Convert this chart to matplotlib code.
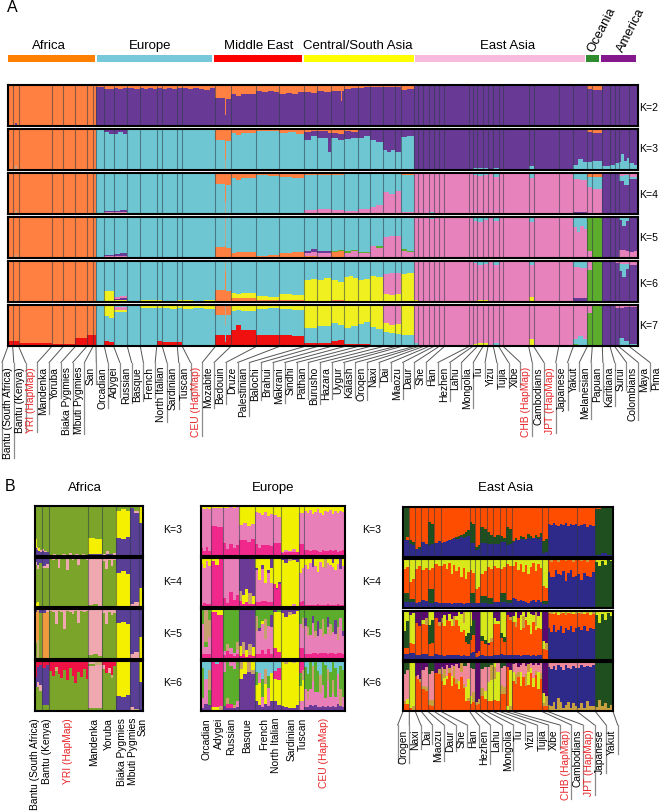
import matplotlib
matplotlib.use("Agg")
import matplotlib.pyplot as plt
import numpy as np

W, H = 661, 812
plt.rcParams['font.family'] = ['Liberation Sans', 'DejaVu Sans']

# --- HEADER BAR ---
REGIONS = ['Africa', 'Europe', 'Middle East', 'Central/South Asia', 'East Asia', 'Oceania', 'America']
REGION_SIZES = [89, 117.3, 89.7, 111.6, 171, 14.7, 36.3]
REGION_COLORS = ['#FF8000', '#78C8DC', '#FF0000', '#FFFF00', '#F9BBDD', '#2E8B2E', '#84188C']

# --- PANEL A ---
A_POPS = ['Bantu (South Africa)', 'Bantu (Kenya)', 'YRI (HapMap)', 'Mandenka', 'Yoruba', 'Biaka Pygmies',
          'Mbuti Pygmies', 'San', 'Orcadian', 'Adygei', 'Russian', 'Basque', 'French', 'North Italian',
          'Sardinian', 'Tuscan', 'CEU (HapMap)', 'Mozabite', 'Bedouin', 'Druze', 'Palestinian', 'Balochi',
          'Brahui', 'Makrani', 'Sindhi', 'Pathan', 'Burusho', 'Hazara', 'Uygur', 'Kalash', 'Oroqen', 'Naxi',
          'Dai', 'Miaozu', 'Daur', 'She', 'Han', 'Hezhen', 'Lahu', 'Mongolia', 'Tu', 'Yizu', 'Tujia', 'Xibe',
          'CHB (HapMap)', 'Cambodians', 'JPT (HapMap)', 'Japanese', 'Yakut', 'Melanesian', 'Papuan',
          'Karitiana', 'Surui', 'Colombians', 'Maya', 'Pima']
A_SIZES = [4.7, 6, 33, 11.6, 12, 11.4, 6.3, 3, 8.3, 9.4, 13.6, 13, 16.4, 5.6, 15, 5, 33, 15.4, 25.6, 23, 25,
           13, 13.7, 13.3, 13.4, 12, 13.6, 12, 6, 12.4, 4.6, 5, 5.4, 5, 5.3, 5.3, 24.7, 3.7, 4.6, 5.7, 5, 5.3,
           5.4, 4.6, 25.4, 5, 25, 14.6, 14, 5, 10, 7.7, 4.7, 4, 10.6, 8.7]
A_COLORS = {'o': '#FF8040', 'p': '#683A96', 'c': '#6EC6D2', 'k': '#E882BC', 'g': '#5CAD2C',
            'y': '#F0F020', 'r': '#F01010', 't': '#B8A890'}

# each population: columns split by | and segments listed top to bottom, value in percent
A_K2 = ['o98 p2', 'o97 p3|o93 p7|o98 p2', 'o100', 'o99 p1', 'o99 p1', 'o100', 'o100', 'o100',
        'o6 p94', 'o9 p91', 'o8 p92|o10 p90|o7 p93', 'o8 p92|o10 p90', 'o8 p92|o10 p90|o7 p93|o9 p91', 'o8 p92', 'o9 p91|o7 p93|o9 p91', 'o8 p92',
        'o8 p92|o10 p90|o7 p93|o9 p91|o11 p89|o8 p92',
        'o32 p68*12|o72 p28|o33 p67*6', 'o22 p78*6|o28 p72*6|t60 p40|o22 p78*18', 'o15 p85|o17 p83|o14 p86|o16 p84', 'o22 p78|o20 p80|o23 p77|o18 p82',
        'o17 p83|o20 p80', 'o14 p86|o18 p82', 'o15 p85*8|o40 p60|o14 p86*2', 'o10 p90|o7 p93', 'o8 p92|o6 p94', 'o6 p94', 'o6 p94', 'o5 p95', 'o12 p88|o9 p91',
        'p100', 'p100', 'p100', 'p100', 'p100', 'p100', 'p100', 'p100', 'p100', 'p100', 'p100', 'p100', 'p100', 'p100',
        'p100', 'o2 p98', 'p100', 'p100', 'p100', 'o10 p90', 'o12 p88', 'p100', 'p100', 'p100', 'o3 p97', 'o1 p99']
A_K3 = ['o98 c2', 'o97 t3|o91 t9|o98 c2', 'o100', 'o98 c2', 'o99 c1', 'o100', 'o100', 'o100',
        'c100', 'p8 c92|p12 c88', 'p12 c88|p8 c92|p13 c87', 'p1 c99', 'c100', 'c100', 'c100', 'c100', 'p1 c99',
        'o28 c72*12|o72 t28|o30 c70*6', 'o10 c90*6|o14 c86*6|t60 c40|o10 c90*18', 'o6 c94|o4 c96', 'o10 c90|o8 c92|o12 c88',
        'o8 p18 c74|o6 p12 c82', 'o5 p18 c77*8|o10 p45 c45*2', 'o10 p12 c78|o12 p16 c72', 'o6 p18 c76|o8 p14 c78', 'o3 p18 c79|o2 p14 c84', 'p28 c72|p32 c68',
        'p52 c48|p55 c45|p50 c50', 'p55 c45', 'p20 c80|p18 c82',
        'p98 c2', 'p97 c3', 'p100', 'p98 c2', 'p100', 'p100', 'p100', 'p98 c2', 'p96 c4', 'p94 c6', 'p96 c4', 'p100',
        'p94 c6', 'p100', 'p98 c2', 'p90 c10', 'p99 c1', 'p100', 'p88 c12|p72 c28|p80 c20', 'o8 p72 c20', 'o10 p68 c22',
        'p90 c10', 'p88 c12', 'p84 c16', 'p80 c20|p62 c38|p78 c22|p70 c30', 'p84 c16|p88 c12']
A_K4 = ['o98 c2', 'o97 t3|o93 t7|o98 c2', 'o100', 'o99 c1', 'o99 c1', 'o100', 'o100', 'o100',
        'c100', 'c92 p4 k4', 'c92 p4 k4|c90 p5 k5', 'c100', 'c98 k2', 'c100', 'c100', 'c100', 'c99 p1',
        'o28 c72*12|o70 t30|o30 c70*6', 'o12 c88*6|o16 c84*6|t55 c45|o12 c88*18', 'o6 c94|o8 c92', 'o10 c90|o13 c87',
        'o5 c85 k10', 'o4 c84 k12', 'o6 c84 k10', 'o2 c90 k8', 'c88 k12', 'c82 k18|c78 k22', 'c46 k54|c50 k50', 'c44 k56', 'o5 c90 k5',
        'k100', 'k98 c2', 'k100', 'k96 c4', 'k100', 'k100', 'k100', 'k98 p2', 'c5 k95', 'c8 k92', 'c4 k96', 'k100',
        'c10 k90', 'k100', 'k100', 'c12 k88', 'k100', 'k100', 'c14 k81 p5|c18 k76 p6', 'o10 c25 k65', 'o10 c30 k60',
        'p100', 'p100', 'p97 k3', 'k8 c12 p80|k6 c24 p70', 'k10 c5 p85']
A_K5 = ['o98 c2', 'o97 t3|o93 t7|o98 c2', 'o100', 'o99 c1', 'o99 c1', 'o100', 'o100', 'o100',
        'c100', 'c92 p4 k4', 'c90 p4 k6|c88 p6 k6', 'c100', 'c100', 'c100', 'c100', 'c100', 'c100',
        'c74 o26*12|t70 o30|c76 o24*6', 'c88 o12*6|c85 o15*6|t60 o40|c86 o14*18', 'c94 o6|c92 o8', 'c87 o13|c85 o15',
        'c82 p6 k8 o4|c78 p8 k8 o6', 'c84 p5 k8 o3', 'c82 g3 o15|c80 g4 o16', 'c84 g4 k12|c80 g4 k16', 'c86 g3 k11', 'c70 g2 k28|c72 g3 k25', 'c50 k50|c46 k54', 'c48 k52', 'c78 g4 k18|c82 g3 k15',
        'k100', 'c3 k97', 'k100', 'c6 k94', 'k100', 'k100', 'k100', 'c4 k96', 'c10 k90', 'c14 k86', 'c8 k92', 'k100',
        'c10 k90', 'k100', 'k100', 'c14 k86', 'k100', 'k100', 'c26 k74|c38 k62|c24 k76|c30 k70', 'g82 k18', 'g100',
        'p100', 'p100', 'p100', 'c8 p72 k20|c22 p58 k20|c12 p70 k18', 'p86 k14|p84 k16']
A_K6 = ['o98 c2', 'o97 t3|o94 t6|o99 c1', 'o100', 'o100', 'o100', 'o100', 'o100', 'o100',
        'c100', 'c74 y26', 'c87 k5 p4 y4|c85 k6 p5 y4', 'c99 y1', 'c96 y4', 'c96 y4', 'c97 y3', 'c94 y6', 'c95 y5|c97 y3|c94 y6',
        'c70 o30*12|t25 o75|c72 o28*6', 'c78 y12 o10*6|c80 y10 o10*6|t45 o55|c78 y12 o10*18', 'c86 y10 o4|c88 y8 o4', 'c80 y15 o5|c83 y13 o4',
        'c46 y54|c44 y56', 'c46 y54|c42 y58', 'c46 y50 o4|c50 y46 o4', 'c40 y60|c36 y64|c42 y58', 'c47 y53|c44 y56', 'c36 y64|c40 y60', 'c32 k48 y20|c30 k52 y18', 'c30 k50 y20', 'c32 y68|c30 y70',
        'k96 y4', 'k98 y2', 'k100', 'k98 y2', 'k100', 'k100', 'k98 y2', 'k98 y2', 'c6 k92 y2', 'c10 k86 y4', 'c8 k88 y4', 'k98 y2',
        'c10 k90', 'k100', 'k99 y1', 'c10 k78 y12', 'k100', 'k100', 'c14 k76 p8 y2|c18 k72 p8 y2', 'k22 g78', 'g100',
        'p100', 'p100', 'k5 p95', 'k8 c16 p76|k8 c32 p60|k8 c12 p80', 'k10 p90']
A_K7 = ['o88 r12', 'o89 r11', 'o92 r8|o93 r7', 'o94 r6', 'o95 r5', 'o80 r20', 'o73 r27', 'o72 r28',
        'c100', 'c3 y25 c60 r12|c3 y28 c59 r10', 'c6 k5 y5 c84', 'c100', 'c3 y4 c91 r2', 'c3 y5 c80 r12', 'c3 y4 c83 r10|c3 y6 c82 r9', 'c3 y5 c82 r10', 'c3 y6 c91|c3 y4 c93|c3 y7 c90',
        'o24 c48 r28*12|t50 c40 r10|o24 c50 r26*6', 'c2 y12 c46 r40*6|c2 y10 c36 r52*6|t40 c30 r30|c2 y12 c48 r38*18', 'c2 y8 c62 r28|c2 y6 c66 r26', 'c2 y8 c62 r28|c2 y9 c64 r25',
        'y56 c36 r8', 'y52 c40 r8', 'y45 c42 r13|y48 c38 r14', 'y55 c41 r4|y52 c44 r4', 'y46 c50 r4|y42 c54 r4', 'y54 c44 r2|y58 c40 r2', 'k45 y22 c33|k48 y20 c32', 'k46 y24 c30', 'y72 c28|y74 c26',
        'k92 c8', 'k98 y2', 'k100', 'k97 y3', 'k100', 'k100', 'k99 y1', 'k98 y2', 'k96 y2 c2', 'k92 y6 c2', 'k92 y8', 'k98 y2',
        'k92 c8', 'k100', 'k99 y1', 'k82 y18', 'k100', 'k100', 'k82 c12 g6|k76 c24|k84 c16', 'k20 g80', 'g100',
        'p100', 'p98 c2', 'k8 p92', 'k8 p72 c20|k6 p82 c12', 'k6 p90 c4']
A_ROWS = [A_K2, A_K3, A_K4, A_K5, A_K6, A_K7]
A_KS = ['K=2', 'K=3', 'K=4', 'K=5', 'K=6', 'K=7']

# --- PANEL B AFRICA ---
AF_POPS = ['Bantu (South Africa)', 'Bantu (Kenya)', 'YRI (HapMap)', 'Mandenka', 'Yoruba', 'Biaka Pygmies', 'Mbuti Pygmies', 'San']
AF_SIZES = [6.7, 7.6, 39, 14, 14, 14, 8.4, 4.3]
AF_COLORS = {'g': '#7AA52A', 'y': '#F5F000', 'v': '#5A3F96', 'n': '#F0A8B0', 'a': '#F09A40', 'r': '#EE1144', 't': '#C8B070'}
AF_K3 = ['g66 y18 v16|g82 n6 v12|g84 y6 v10|g88 n4 v8', 'g86 n4 v10|g90 n2 v8|g92 v8', 'g98 n2|g95 n5|g99 n1|g97 n3|g96 n4|g99 n1|g94 n6|g98 n2|g96 n4|g99 n1|g95 n5|g98 n2', 'g64 y31 v5|g66 y30 v4', 'g96 n4|g90 n6 v4|g96 v4|g93 n7',
         'g9 y55 v36|g6 y60 v34|g10 y52 v38', 'g4 v96|g10 n4 v86', 'y33 v67']
AF_K4 = ['v8 n6 g78 y8|v14 n8 g68 y10|v10 g90', 'v16 n4 g80|v12 n8 g80', 'n2 g98|n4 g96|n3 g97|n20 g80|n2 g98|n3 g97|n24 g76|n2 g98|n4 g96|n3 g97|n14 g86|n2 g98|n3 g97|n4 g96', 'n96 g4|n94 g6|n97 g3', 'n6 g94|n22 g78|n4 g96|n16 g84|n5 g95',
         'v30 y68 n2|v27 y71 n2|v33 y66 n1', 'v94 n6|v90 n10', 'v62 y38']
AF_K5 = ['v6 a62 g32|t4 a58 t38|v8 g90 n2', 'v8 a92|n6 a94', 'n3 g97|n6 g94|n30 g70|n4 g96|n5 g95|n40 g60|n3 g97|n6 g94|n10 g90|n4 g96|n28 g72|n3 g97|n6 g94|n4 g96', 'n92 g8|n90 g10|n94 g6', 'n8 g92|n30 g70|n6 g94|n12 g88|n7 g93',
         'v28 y70 n2|v26 y72 n2|v30 y68 n2', 'v90 n10|v86 n14', 'v56 y44']
AF_K6 = ['r32 v20 g48|r12 v30 n10 g48|r8 v40 n12 g40', 'r14 v74 g12|r8 v80 g12', 'r20 g80|r30 g70|r12 t8 g80|r26 g74|r34 g66|r18 g82|r38 g62|r14 g86|r30 g70|r44 g56|r22 g78|r32 g68|r16 g84|r36 g64', 'n6 g3 n85 g6|t8 n86 g6', 'r8 n8 g84|r24 g76|r14 n10 g76|r28 t6 g66|r10 g90',
         'y70 v30|y72 v28|y68 v32', 'v92 n8|v96 t4', 'y42 v58']

# --- PANEL B EUROPE ---
EU_POPS = ['Orcadian', 'Adygei', 'Russian', 'Basque', 'French', 'North Italian', 'Sardinian', 'Tuscan', 'CEU (HapMap)']
EU_SIZES = [10.6, 11.4, 16.6, 15.4, 18.6, 7.4, 18.6, 5, 40]
EU_COLORS = {'k': '#E87FB8', 'h': '#F0288C', 'y': '#F0F000', 'v': '#6A3A96', 'g': '#5CAD2C', 'c': '#6FC8D4', 't': '#C8A070'}
EU_K3 = ['y4 k80 h16|y6 k84 h10|y3 k78 h19|y5 k85 h10', 'y3 k36 h61|y4 k38 h58', 'y3 k70 h27|y3 k82 h15|y2 k74 h24|y3 k80 h17|y2 k76 h22',
         'y38 k30 h32|y34 k34 h32|y40 k32 h28|y36 k30 h34', 'y12 k64 h24|y14 k70 h16|y18 k60 h22|y12 k66 h22|y20 k58 h22|y16 k64 h20', 'y18 k56 h26|y22 k52 h26', 'y92 k2 h6|y88 k4 h8|y90 k2 h8|y86 k6 h8|y91 k1 h8', 'y14 k62 h24',
         'y10 k78 h12|y14 k74 h12|y8 k82 h10|y16 k72 h12|y12 k76 h12|y6 k84 h10|y14 k78 h8|y18 k70 h12|y10 k80 h10|y12 k78 h10|y8 k80 h12|y15 k75 h10|y10 k78 h12|y13 k79 h8|y9 k80 h11|y12 k76 h12']
EU_K4 = ['y12 k84 h4|y20 k72 h8|y6 k88 h6|y16 k78 h6', 'y6 h94|y14 h86|y3 h97', 'y3 k78 h19|y3 k88 h9|k70 h30|y2 k84 h14|k76 h24',
         'v68 t20 h12|v76 y18 h6|v64 y26 h10|v72 t22 h6|v78 y16 h6', 'y20 v4 k66 h10|y44 k46 h10|y14 v8 k66 h12|y50 k38 h12|y24 v6 k60 h10|v20 y30 k40 h10', 'y54 h46|y62 v2 h36|y48 v6 h46', 'v4 y94 h2|v10 y88 h2|t6 y92 h2|v4 y90 k4 h2|v8 y90 h2', 'y30 k60 h10|y20 k68 h12',
         'y14 k82 h4|y22 k74 h4|y10 k86 h4|v18 k78 h4|y16 k80 h4|y28 k66 h6|y8 k88 h4|y18 k78 h4|t20 k76 h4|y10 k84 h6|y14 k82 h4|v10 y8 k78 h4|y24 k72 h4|y12 k82 h6|v22 k74 h4|y16 k80 h4']
EU_K5 = ['g30 k60 h10|t66 g10 k14 h10|g22 t34 k34 h10', 'y5 h95|y12 h88', 'g84 k8 h8|g70 t14 h16|g78 k12 h10|g88 k6 h6|g66 t16 k8 h10',
         'v74 y20 h6|v66 t24 h10|v82 y14 h4|v70 t22 h8|v76 y18 h6', 'g14 t30 k46 h10|g38 v6 k46 h10|g24 y6 k52 h18|g20 t40 k30 h10|g34 k46 h20|g12 v24 k54 h10', 'v6 y72 h22|g6 y80 h14', 'v8 y90 h2|v16 y82 h2|v6 t6 y86 h2|v10 y88 h2|v4 y94 h2', 'g30 k48 h22|g18 t20 k40 h22',
         'g18 v16 k56 h10|g36 t18 k36 h10|g52 k38 h10|g14 v14 k60 h12|g44 t12 k32 h12|g24 v30 k36 h10|g40 k48 h12|g20 t36 k32 h12|g50 k38 h12|g16 v20 k54 h10|g30 t22 k36 h12|g46 k42 h12|g22 v28 k40 h10|g36 t26 k26 h12|g18 k70 h12|g44 v10 k36 h10']
EU_K6 = ['c14 g60 k20 v6|c36 k50 v14|c18 t40 g30 v12', 'h92 y8|c6 h86 y8|h90 t10', 'k22 g68 v10|g74 t12 h8 v6|k10 g76 h8 v6|k16 g72 t6 v6|g80 k12 v8',
         't16 y20 v64|y26 v74|t22 v78|y18 t8 v74', 'c22 g26 y32 v20|c24 k20 y44 v12|c36 g36 k20 v8|c16 t30 y40 v14|c30 g24 k36 v10|c24 y56 v20', 'c20 h16 y44 v20|c14 h24 y50 v12', 'y90 v10|t6 y86 v8|y94 v6|t4 y90 v6|y88 v12', 'h24 g26 y30 k20|h18 t20 y42 k20',
         'c12 g44 k36 v8|c26 g34 t18 k14 v8|g56 k32 v12|c10 t30 k50 v10|g62 k26 v12|c20 g42 k30 v8|c28 t36 k28 v8|g48 k42 v10|c8 g66 k18 v8|c16 t24 k50 v10|c22 g50 k20 v8|g38 t26 k26 v10|c14 g58 k20 v8|c26 k60 v14|c10 g46 t34 v10|c18 g54 k20 v8']

# --- PANEL B EAST ASIA ---
EA_POPS = ['Orogen', 'Naxi', 'Dai', 'Miaozu', 'Daur', 'She', 'Han', 'Hezhen', 'Lahu', 'Mongolia', 'Tu', 'Yizu', 'Tujia', 'Xibe',
           'CHB (HapMap)', 'Cambodians', 'JPT (HapMap)', 'Japanese', 'Yakut']
EA_SIZES = [6.3, 6, 6, 6.7, 6.3, 6.7, 28.7, 5.3, 5.3, 6.7, 6, 6.7, 6, 6.3, 30, 5.7, 29.3, 18.3, 17.7]
EA_COLORS = {'r': '#FF4D00', 'b': '#2E2A8A', 'd': '#1F4F1F', 'y': '#D8E81A', 'm': '#5A0A6E', 'n': '#F08A9A', 't': '#C8A040'}
EA_K3 = ['d66 b34|d60 r6 b34', 'r66 d8 b26|r70 d6 b24', 'r84 b16|r80 d4 b16', 'r70 b30|r74 b26', 'r30 d45 b25|r34 d40 b26', 'r72 b28|r68 b32', 'r72 b28|r70 b30|r68 b32|r66 b34|r64 d2 b34|r62 b38|r60 d4 b36|r58 d6 b36|r56 d4 b40|r54 d8 b38|r50 d10 b40|r46 d12 b42',
         'r30 d42 b28|r34 d38 b28', 'r80 d5 b15|r76 d8 b16', 'r40 d32 b28|r44 d28 b28', 'r50 d24 b26|r56 d18 b26', 'r60 d14 b26|r56 d18 b26', 'r58 d12 b30|r62 d8 b30', 'r40 d36 b24|r44 d30 b26',
         'r68 d2 b30|r62 d4 b34|r66 b34|r58 d6 b36|r60 d4 b36|r64 d2 b34|r54 d8 b38|r58 d6 b36|r62 b38|r56 d6 b38|r60 d4 b36|r52 d8 b40', 'r68 d24 b8|r64 d26 b10', 'r34 b66|r36 b64|r32 b68|r35 b65|r38 b62|r33 b67|r36 b64|r31 b69|r37 b63|r34 b66|r36 b64|r33 b67', 'r38 b62|r36 b64|r34 b66|r39 b61|r35 b65|r37 b63', 'r3 d93 b4|d92 b8|r2 d94 b4']
EA_K4 = ['y20 r50 d18 b12|y16 r54 d18 b12', 'y46 r36 d6 b12|y40 r42 d6 b12', 'y20 r70 b10|y14 r74 b12', 'y22 r62 b16|y18 r68 b14', 'y22 r40 d28 b10|y18 r44 d28 b10', 'y10 r78 b12|y14 r76 b10',
         'y14 r76 b10|y10 r80 b10|y20 r70 b10|y8 r82 b10|y30 r62 b8|y12 r78 b10|y24 r66 b10|y16 r74 b10|y36 r54 b10|y18 r74 b8|y40 r50 b10|y26 r64 b10',
         'y22 r48 d20 b10|y28 r42 d20 b10', 'y62 r28 b10|y58 r32 b10', 'y30 r46 d14 b10|y24 r52 d14 b10', 'y16 r64 d12 b8|y20 r60 d12 b8', 'y14 r74 b12|y18 r70 b12', 'y20 r50 d18 b12|y16 r54 d18 b12', 'y10 r74 d6 b10|y14 r70 d6 b10',
         'y14 r66 b20|y6 r76 b18|y22 r64 b14|y10 r74 b16|y26 r60 b14|y12 r76 b12|y30 r60 b10|y16 r70 b14|y8 r76 b16|y24 r64 b12|y10 r74 b16|y18 r70 b12',
         'y56 r30 d6 b8|y60 r26 d6 b8', 'r26 b74|t6 r30 b64|r36 b64|r22 b78|t6 r24 b70|r32 b68|r24 b76|t4 r40 b56|r28 b72|r22 b78|t6 r30 b64|r34 b66', 'r30 b70|t4 r38 b58|r28 b72|t6 r28 b66|r36 b64|r26 b74', 'y6 d94|y14 d86|y4 d96|y12 d88|y3 d97|y5 d95']
EA_K5 = ['y40 d36 r12 b12|y20 d56 r12 b12', 'm8 y58 r20 b14|m4 y64 r18 b14', 'm24 r66 b10|m30 r60 b10', 'm18 y8 r62 b12|m14 t14 r60 b12', 'y28 d40 r24 b8|y18 d48 r26 b8', 'm14 r74 b12|m22 t8 r60 b10',
         'm14 t10 r66 b10|m8 y22 r62 b8|m18 r72 b10|m6 y14 r70 b10|m16 y14 r60 b10|m10 t20 r60 b10|m10 y8 r72 b10|y30 r60 b10|m6 y36 r50 b8|t24 y14 r52 b10|y50 d14 r28 b8|y44 d24 r24 b8',
         'y30 d30 r26 b14|m18 d30 r36 b16', 'm86 r8 b6|m82 r10 b8', 'y52 d10 r28 b10|y60 d8 r24 b8', 'y66 m4 r22 b8|y56 t8 r28 b8', 'm14 y12 r64 b10|m20 y6 r64 b10', 'y44 d12 r32 b12|y54 d10 r26 b10', 'm8 r82 b10|m12 t6 r72 b10',
         'm10 y12 r68 b10|y22 t10 r58 b10|m14 r76 b10|m8 y30 r54 b8|y10 t24 r56 b10|m12 y6 r72 b10|y28 r62 b10|m6 y40 r46 b8|m8 y14 r68 b10|t30 y8 r54 b8|m10 y24 r56 b10|y36 r54 b10', 'm62 y16 r22|m66 t14 r20',
         'y4 r30 b66|t6 r36 b58|y6 r22 b72|t4 r38 b58|y8 r30 b62|t6 r24 b70|y4 r40 b56|t8 r26 b66|y4 r34 b62|t6 r24 b70|y6 r36 b58|t6 r28 b66', 'y4 r28 b68|t6 r32 b62|y6 r24 b70|t4 r36 b60|y8 r26 b66|t6 r30 b64', 'y8 d90 b2|y24 d74 b2|y6 d92 b2|y18 d80 b2|y4 d94 b2|y10 d88 b2']
EA_K6 = ['d24 n56 t6 r14|d16 n60 y10 r14', 'y94 r6|y90 t10', 'm28 r72|m26 n8 r66|m34 t6 r60', 'm16 n32 t8 r44|m10 n40 t10 r40', 'd24 n54 t10 r12|d18 n60 t12 r10', 'm22 r78|m14 t10 r76',
         'm10 n14 t14 r62|m14 t18 y14 r54|m6 n22 y6 r66|m12 t10 r78|m6 n22 y20 r52|m8 t24 r68|m4 n30 t10 r56|m12 n26 y18 r44|t20 n10 r70|d8 n36 t10 r46|d8 n44 y28 r20|n34 y40 t6 r20',
         'd12 n58 y16 r14|d14 n48 t20 r18', 'm82 t6 r12|m76 t10 r14', 'd14 n40 t16 r30|d10 n50 y16 r24', 'd10 n30 y40 r20|d6 t30 y44 r20', 'y10 t24 y44 r22|n20 y60 r20', 'd12 n34 t20 r34|d8 n44 t14 r34', 'm10 r80 y10|m16 y74 t10',
         'm4 n16 y18 r62|n24 t20 r56|m10 n10 t10 r70|m6 n14 y28 r52|n30 r70|m8 n16 t24 r52|m4 t16 y26 r54|n12 y10 r78|m6 n26 y20 r48|n18 t8 r74|m6 n14 y36 r44|n22 t12 r66', 'm64 y20 t6 r10|m70 t20 r10',
         'n10 b78 t12|n14 b76 t10|n8 b74 t18|n16 b80 t4|n6 b68 t26|n10 b72 t18|n16 b78 t6|n6 b82 t12|n12 b70 t18|n14 b80 t6|n8 b76 t16|n12 b78 t10', 'n12 b82 t6|n6 b78 t16|n10 b84 t6|n8 b72 t20|n10 b80 t10|n6 b84 t10', 'd92 t8|d78 t22|d90 t10|d84 t16|d94 t6|d88 t12']

# frames in pixels of the reference: left, right, rows as top/bottom
A_FRAME = (8, 638, [(86, 127), (130, 171), (174, 215), (217.5, 259), (262, 303), (306, 347)])
AF_FRAME = (35, 143, [(507, 557), (559, 608), (610, 660), (662, 712)])
EU_FRAME = (200.5, 344.5, [(507, 557), (559, 608), (610, 660), (662, 712)])
EA_FRAME = (403, 613, [(508, 558), (560, 609), (612, 661), (663, 712)])


def parse_pop(spec):
    cols = []
    for col in spec.split('|'):
        repeat = 1
        if '*' in col:
            col, repeat = col.split('*')
            repeat = int(repeat)
        segs = [(s[0], float(s[1:])) for s in col.split()]
        cols.extend([segs] * repeat)
    return cols


def add_axes_px(left, right, top, bottom):
    return fig.add_axes([left / W, 1 - bottom / H, (right - left) / W, (bottom - top) / H])


def draw_row(ax, sizes, row, colors):
    edges = np.concatenate([[0], np.cumsum(sizes)])
    for i, spec in enumerate(row):
        cols = parse_pop(spec)
        w = sizes[i] / len(cols)
        for j, segs in enumerate(cols):
            total = sum(v for _, v in segs)
            top = 100.0
            for name, v in segs:
                h = v / total * 100
                # a little wider than the column so no white seams show
                ax.bar(edges[i] + j * w, h + 0.6, width=w + 0.8, bottom=top - h - 0.6, align='edge',
                       color=colors[name], linewidth=0)
                top -= h
    for x in edges[1:-1]:
        ax.axvline(x, color='#2A3A44', alpha=0.55, lw=0.8)
    ax.set_xlim(0, edges[-1])
    ax.set_ylim(0, 100)
    ax.set_xticks([])
    ax.set_yticks([])
    for s in ax.spines.values():
        s.set_linewidth(1.5)
        s.set_color('black')


def draw_panel(frame, sizes, rows, colors):
    left, right, tops = frame
    for (top, bottom), row in zip(tops, rows):
        draw_row(add_axes_px(left, right, top, bottom), sizes, row, colors)


def label_color(name):
    return '#E8272A' if 'HapMap' in name else 'black'


fig = plt.figure(figsize=(W / 100, H / 100), dpi=100)
bg = fig.add_axes([0, 0, 1, 1])
bg.set_xlim(0, W)
bg.set_ylim(H, 0)
bg.axis('off')

# header
start = 7.7
region_x = [49, 150, 258.7, 358, 507.7, 591, 620]
for name, size, color, cx in zip(REGIONS, REGION_SIZES, REGION_COLORS, region_x):
    bg.barh(59.5, size - 1.6, left=start, height=7.6, color=color, linewidth=0)
    start += size
    if name in ('Oceania', 'America'):
        bg.text(cx, 52, name, rotation=63, rotation_mode='anchor', fontsize=9.4, ha='left', va='center')
    else:
        bg.text(cx, 46, name, fontsize=9.5, ha='center', va='center')

bg.text(12, 8, 'A', fontsize=11.5, ha='center', va='center')
bg.text(10, 487, 'B', fontsize=11.5, ha='center', va='center')
for name, x in zip(['Africa', 'Europe', 'East Asia'], [85, 273, 506]):
    bg.text(x, 488, name, fontsize=9.5, ha='center', va='center')

for k, y in zip(A_KS, [108, 149, 195, 238, 284, 326]):
    bg.text(649, y, k, fontsize=7.6, ha='center', va='center')
for k, y in zip(A_KS[1:5], [530, 582, 634, 683]):
    bg.text(172.5, y, k, fontsize=7.6, ha='center', va='center')
    bg.text(372, y, k, fontsize=7.6, ha='center', va='center')

draw_panel(A_FRAME, A_SIZES, A_ROWS, A_COLORS)
draw_panel(AF_FRAME, AF_SIZES, [AF_K3, AF_K4, AF_K5, AF_K6], AF_COLORS)
draw_panel(EU_FRAME, EU_SIZES, [EU_K3, EU_K4, EU_K5, EU_K6], EU_COLORS)
draw_panel(EA_FRAME, EA_SIZES, [EA_K3, EA_K4, EA_K5, EA_K6], EA_COLORS)

renderer = fig.canvas.get_renderer()


def label_fan(pops, sizes, frame, line_x, top_y, frame_bottom):
    # rotated names with a rule to the right of each and a slanted link up to the population start
    left, right, _ = frame
    scale = (right - left) / sum(sizes)
    anchors = left + np.concatenate([[0], np.cumsum(sizes)]) * scale
    step = line_x[1] - line_x[0]
    lengths = []
    for name, x in zip(pops, line_x):
        t = bg.text(x + step / 2, top_y + 3.5, name, rotation=90, fontsize=7.4, ha='center', va='top',
                    color=label_color(name))
        lengths.append(t.get_window_extent(renderer).height)
    for i in range(len(line_x)):
        ln = lengths[max(i - 1, 0)]
        bg.plot([anchors[i], line_x[i]], [frame_bottom, top_y], color='#555555', lw=0.7)
        bg.plot([line_x[i], line_x[i]], [top_y, top_y + 3.5 + ln], color='#8C8C8C', lw=0.9)


a_lines = np.linspace(2, 650, len(A_POPS))
label_fan(A_POPS, A_SIZES, A_FRAME, a_lines, 363.5, 347.5)
ea_lines = np.linspace(397.7, 617.7, len(EA_POPS) + 1)
label_fan(EA_POPS, EA_SIZES, EA_FRAME, ea_lines, 726, 712.5)

for name, x in zip(AF_POPS, [35, 46.7, 68.3, 94.3, 109.3, 122.3, 133.3, 142.7]):
    bg.text(x, 718, name, rotation=90, fontsize=7.4, ha='center', va='top', color=label_color(name))
for name, x in zip(EU_POPS, [206.7, 219.3, 230.7, 246.7, 264, 276, 291.7, 302.3, 324]):
    bg.text(x, 718, name, rotation=90, fontsize=7.4, ha='center', va='top', color=label_color(name))

fig.savefig('out.png', dpi=100)
